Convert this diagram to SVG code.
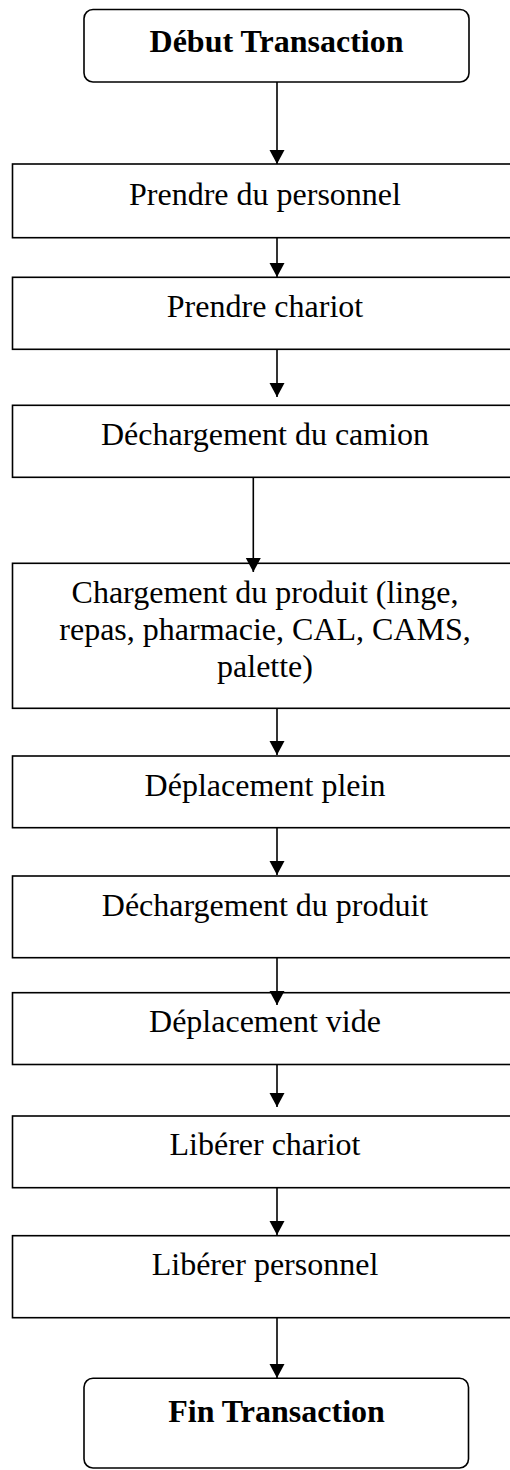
<svg xmlns="http://www.w3.org/2000/svg" width="510" height="1470" viewBox="0 0 510 1470">
<style>
.box{fill:#fff;stroke:#000;stroke-width:1.6}
.t{font-family:"Liberation Serif","Times New Roman",serif;font-size:32px;fill:#000;text-anchor:middle}
.b{font-weight:bold}
.c{stroke:#000;stroke-width:1.6;fill:none;marker-end:url(#ah)}
</style>
<defs>
<marker id="ah" markerUnits="userSpaceOnUse" markerWidth="16" markerHeight="16" refX="14" refY="7.5" orient="auto" viewBox="0 0 16 16">
<path d="M0,0 L14,7.5 L0,15 z" fill="#000"/>
</marker>
</defs>
<rect width="510" height="1470" fill="#fff"/>
<g id="start">
<rect class="box" x="84" y="9.5" width="385" height="72.5" rx="9"/>
<text class="t b" x="276.5" y="52">Début Transaction</text>
</g>
<g id="n1">
<rect class="box" x="12.5" y="164" width="506" height="73.7"/>
<text class="t" x="265" y="205">Prendre du personnel</text>
</g>
<g id="n2">
<rect class="box" x="12.5" y="277.3" width="506" height="72"/>
<text class="t" x="265" y="316.5">Prendre chariot</text>
</g>
<g id="n3">
<rect class="box" x="12.5" y="405.3" width="506" height="72"/>
<text class="t" x="265" y="445">Déchargement du camion</text>
</g>
<g id="n4">
<rect class="box" x="12.5" y="563.3" width="506" height="145"/>
<text class="t" x="265" y="602.7">Chargement du produit (linge,</text>
<text class="t" x="265" y="640">repas, pharmacie, CAL, CAMS,</text>
<text class="t" x="265" y="676.7">palette)</text>
</g>
<g id="n5">
<rect class="box" x="12.5" y="756" width="506" height="71.7"/>
<text class="t" x="265" y="796">Déplacement plein</text>
</g>
<g id="n6">
<rect class="box" x="12.5" y="876" width="506" height="81.7"/>
<text class="t" x="265" y="915.5">Déchargement du produit</text>
</g>
<g id="n7">
<rect class="box" x="12.5" y="992.7" width="506" height="71.8"/>
<text class="t" x="265" y="1031.5">Déplacement vide</text>
</g>
<g id="n8">
<rect class="box" x="12.5" y="1116" width="506" height="71.7"/>
<text class="t" x="265" y="1155">Libérer chariot</text>
</g>
<g id="n9">
<rect class="box" x="12.5" y="1235.7" width="506" height="82"/>
<text class="t" x="265" y="1275">Libérer personnel</text>
</g>
<g id="end">
<rect class="box" x="84" y="1378.3" width="384.5" height="89.7" rx="9"/>
<text class="t b" x="276.5" y="1421.5">Fin Transaction</text>
</g>
<g id="connectors">
<line class="c" x1="277" y1="82" x2="277" y2="164"/>
<line class="c" x1="277" y1="238" x2="277" y2="277"/>
<line class="c" x1="277" y1="349" x2="277" y2="397"/>
<line class="c" x1="253.3" y1="477" x2="253.3" y2="572"/>
<line class="c" x1="277" y1="708" x2="277" y2="755"/>
<line class="c" x1="277" y1="828" x2="277" y2="875"/>
<line class="c" x1="277" y1="958" x2="277" y2="1005"/>
<line class="c" x1="277" y1="1064" x2="277" y2="1107"/>
<line class="c" x1="277" y1="1188" x2="277" y2="1235"/>
<line class="c" x1="277" y1="1318" x2="277" y2="1378"/>
</g>
</svg>
